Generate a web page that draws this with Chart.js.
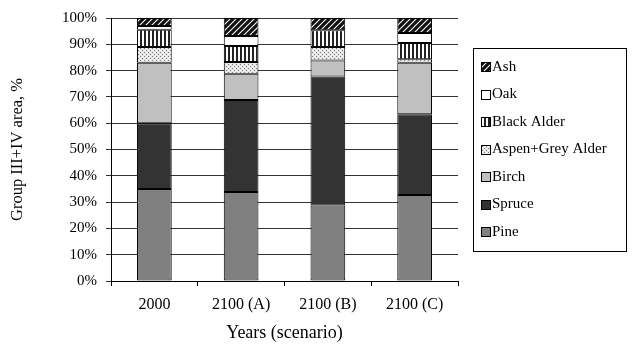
<!DOCTYPE html>
<html>
<head>
<meta charset="utf-8">
<script src="https://cdn.jsdelivr.net/npm/chart.js@4"></script>
<style>
  body { margin: 0; background: #fff; }
</style>
</head>
<body>
<canvas id="chart" width="634" height="356"></canvas>
<script>
const scenarios = ["2000", "2100 (A)", "2100 (B)", "2100 (C)"];
const pine = [35, 33.8, 28.7, 32.7];
const spruce = [25, 35, 49.1, 30.7];
const birch = [23, 10, 6, 19.6];
const aspenGreyAlder = [6, 4.5, 5.2, 1.3];
const blackAlder = [6.5, 6.1, 6.3, 6.2];
const oak = [1.5, 3.8, 0, 3.8];
const ash = [3, 6.8, 4.7, 5.7];
const yTicks = [0, 10, 20, 30, 40, 50, 60, 70, 80, 90, 100];

const serif = "'Liberation Serif', 'Times New Roman', serif";

// small tiles for the hatched series
function makePattern(size, paint) {
  const c = document.createElement("canvas");
  c.width = size;
  c.height = size;
  const g = c.getContext("2d");
  paint(g);
  return g.createPattern(c, "repeat");
}
const ctx = document.getElementById("chart").getContext("2d");

const ashFill = makePattern(6, (g) => {
  g.fillStyle = "#fff";
  g.fillRect(0, 0, 6, 6);
  g.strokeStyle = "#111";
  g.lineWidth = 3.2;
  g.beginPath();
  g.moveTo(-1, 7); g.lineTo(7, -1);
  g.moveTo(-4, 4); g.lineTo(4, -4);
  g.moveTo(2, 10); g.lineTo(10, 2);
  g.stroke();
});
const blackAlderFill = makePattern(4, (g) => {
  g.fillStyle = "#fff";
  g.fillRect(0, 0, 4, 4);
  g.fillStyle = "#222";
  g.fillRect(0, 0, 2, 4);
});
const aspenFill = makePattern(4, (g) => {
  g.fillStyle = "#e6e6e6";
  g.fillRect(0, 0, 4, 4);
  g.fillStyle = "#777";
  g.fillRect(0, 0, 1, 1);
  g.fillRect(2, 2, 1, 1);
  g.fillStyle = "#fff";
  g.fillRect(2, 0, 1, 1);
  g.fillRect(0, 2, 1, 1);
});

const boxLegend = {
  id: "boxLegend",
  afterDraw(chart) {
    const c = chart.ctx;
    const sets = chart.data.datasets.slice().reverse();
    const left = 473, top = 48, width = 153, height = 203;
    c.save();
    c.strokeStyle = "#000";
    c.lineWidth = 1;
    c.strokeRect(left + 0.5, top + 0.5, width, height);
    c.font = "15px " + serif;
    c.textBaseline = "middle";
    c.fillStyle = "#000";
    sets.forEach((ds, i) => {
      const y = 67 + i * 27.5;
      c.fillStyle = ds.backgroundColor;
      c.fillRect(481, Math.round(y - 5), 9, 9);
      c.strokeStyle = "#000";
      c.strokeRect(481.5, Math.round(y - 5) + 0.5, 9, 9);
      c.fillStyle = "#000";
      c.fillText(ds.label, 492, y);
    });
    c.restore();
  },
};

function series(label, data, fill) {
  return {
    label,
    data,
    backgroundColor: fill,
    borderColor: "#000",
    borderWidth: 1,
    borderSkipped: false,
    barPercentage: 0.4,
    categoryPercentage: 1,
  };
}

new Chart(ctx, {
  type: "bar",
  data: {
    labels: scenarios,
    datasets: [
      series("Pine", pine, "#808080"),
      series("Spruce", spruce, "#333333"),
      series("Birch", birch, "#c0c0c0"),
      series("Aspen+Grey Alder", aspenGreyAlder, aspenFill),
      series("Black Alder", blackAlder, blackAlderFill),
      series("Oak", oak, "#ffffff"),
      series("Ash", ash, ashFill),
    ],
  },
  options: {
    responsive: false,
    animation: false,
    layout: { padding: { top: 14, right: 176, bottom: 0, left: 0 } },
    plugins: {
      legend: { display: false },
      tooltip: { enabled: false },
    },
    scales: {
      x: {
        stacked: true,
        afterFit: (s) => { s.height = 75; },
        grid: {
          offset: true,
          drawOnChartArea: false,
          tickLength: 5,
          color: "#000",
        },
        border: { color: "#000" },
        ticks: { color: "#000", font: { family: serif, size: 16 }, padding: 9 },
        title: {
          display: true,
          text: "Years (scenario)",
          color: "#000",
          font: { family: serif, size: 18 },
          padding: { top: 0, bottom: 12 },
        },
      },
      y: {
        stacked: true,
        min: 0,
        max: 100,
        afterFit: (s) => { s.width = 111; },
        afterBuildTicks: (s) => { s.ticks = yTicks.map((v) => ({ value: v })); },
        grid: { color: "#333", tickLength: 5 },
        border: { color: "#000" },
        ticks: {
          color: "#000",
          font: { family: serif, size: 15 },
          padding: 9,
          callback: (v) => v + "%",
        },
        title: {
          display: true,
          text: "Group III+IV area, %",
          color: "#000",
          font: { family: serif, size: 16.5 },
          padding: { top: 8, bottom: 0 },
        },
      },
    },
  },
  plugins: [boxLegend],
});
</script>
</body>
</html>
